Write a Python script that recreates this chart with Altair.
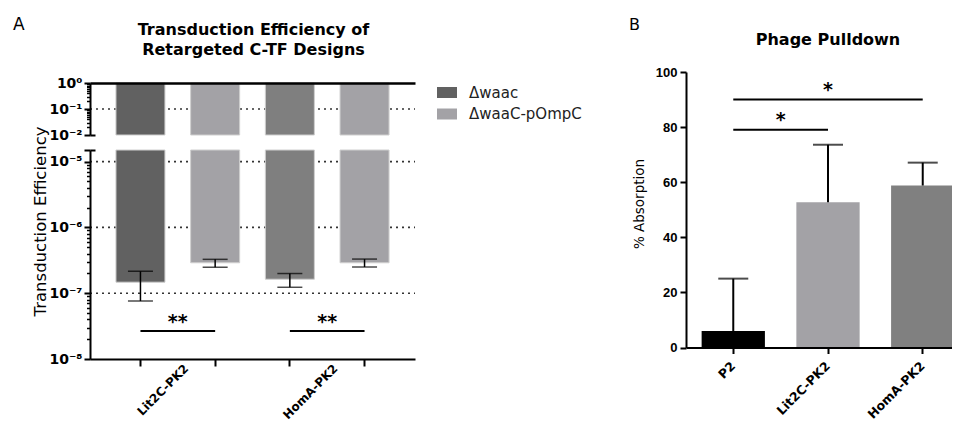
import altair as alt
import pandas as pd

W, H = 944, 413
FONT = "DejaVu Sans"
ARIAL = "Liberation Sans"

# ---------------- Panel A data ----------------
designs = ["Lit2C-PK2", "HomA-PK2"]
strains = ["\u0394waac", "\u0394waaC-pOmpC"]
te_mean = [1.47e-7, 2.90e-7, 1.63e-7, 2.90e-7]
te_hi = [2.15e-7, 3.27e-7, 1.99e-7, 3.30e-7]
te_lo = [7.6e-8, 2.48e-7, 1.23e-7, 2.50e-7]
bar_colors = ["#616161", "#a3a2a6", "#7f7f7f", "#a3a2a6"]
legend_colors = ["#616161", "#a3a2a6"]
sig_a = ["**", "**"]
sig_a_from = [0, 2]
sig_a_to = [1, 3]
sig_a_level = [2.67e-8, 2.67e-8]
top_ticks = [1, 0.1, 0.01]
top_exps = [0, -1, -2]
bot_ticks = [1e-5, 1e-6, 1e-7, 1e-8]
bot_exps = [-5, -6, -7, -8]
grid_top = [0.1]
grid_bot = [1e-5, 1e-6, 1e-7]
minor_top = [m * 10.0 ** e for e in (-2, -1) for m in range(2, 10)]
minor_bot = [m * 10.0 ** e for e in (-8, -7, -6) for m in range(2, 10)]

# ---------------- Panel B data ----------------
pull_cats = ["P2", "Lit2C-PK2", "HomA-PK2"]
pull_mean = [6.0, 52.7, 58.8]
pull_hi = [25.0, 73.6, 67.1]
pull_colors = ["#000000", "#a3a2a6", "#808080"]
sig_b = ["*", "*"]
sig_b_from = [0, 0]
sig_b_to = [1, 2]
sig_b_level = [79, 90]
pull_ticks = [0, 20, 40, 60, 80, 100]

# ---------------- helpers ----------------
SUP = str.maketrans("0123456789-", "\u2070\u00b9\u00b2\u00b3\u2074\u2075\u2076\u2077\u2078\u2079\u207b")


def pow_label(e):
    return "10" + str(e).translate(SUP)


def label_expr(vals, exps):
    parts = [f"abs(log(datum.value) - log({v!r})) < 0.01 ? '{pow_label(e)}'" for v, e in zip(vals, exps)]
    return " : ".join(parts) + " : ''"


def ax(**kw):
    base = dict(grid=False, domainColor="black", tickColor="black", labelColor="black",
                titleColor="black", zindex=1, title=None)
    base.update(kw)
    return alt.Axis(**base)


# ---------------- Panel A geometry (scale ranges) ----------------
AX_A, AX_A_END = 82, 407
TOP_A, TOP_A_BOT = 75, 127
BOT_A_TOP, BOT_A = 142, 351
PI_A, PO_A = 0.344, 0.3475
step_a = (AX_A_END - AX_A) / (4 - PI_A + 2 * PO_A)
c0 = AX_A + PO_A * step_a + step_a * (1 - PI_A) / 2
centers_a = [c0 + i * step_a for i in range(4)]

bar_ids = [f"{d} {s}" for d in designs for s in strains]
dfA = pd.DataFrame({
    "bar": bar_ids,
    "design": [d for d in designs for s in strains],
    "strain": [s for d in designs for s in strains],
    "mean": te_mean, "lo": te_lo, "hi": te_hi,
})
dfA["base"] = 1.0

barX = alt.Scale(type="band", domain=bar_ids, range=[AX_A, AX_A_END], paddingInner=PI_A, paddingOuter=PO_A)
topY = alt.Scale(type="log", domain=[0.01, 1], range=[TOP_A_BOT, TOP_A], clamp=True, nice=False)
botY = alt.Scale(type="log", domain=[1e-8, 1.5e-5], range=[BOT_A, BOT_A_TOP], clamp=True, nice=False)
groupX = alt.Scale(type="point", domain=designs,
                   range=[(centers_a[0] + centers_a[1]) / 2, (centers_a[2] + centers_a[3]) / 2], padding=0)
idxA = alt.Scale(type="linear", domain=[0, 3], range=[centers_a[0], centers_a[3]], nice=False, zero=False)

grid_a_top = alt.Chart(pd.DataFrame({"g": grid_top})).mark_rule(
    color="#333", strokeWidth=1.6, strokeDash=[2, 4]).encode(
    y=alt.Y("g:Q", scale=topY, axis=ax(orient="right", offset=AX_A - W, values=[0.01], labels=False,
                                         domain=False, tickSize=5, tickWidth=2)),
    x=alt.value(AX_A), x2=alt.value(AX_A_END))

grid_a_bot = alt.Chart(pd.DataFrame({"g": grid_bot})).mark_rule(
    color="#333", strokeWidth=1.6, strokeDash=[2, 4]).encode(
    y=alt.Y("g:Q", scale=botY, axis=ax(orient="right", offset=AX_A - W, values=[1.5e-5], labels=False,
                                         domain=False, tickSize=5, tickWidth=2)),
    x=alt.value(AX_A), x2=alt.value(AX_A_END))

bars_a_top = alt.Chart(dfA).mark_bar(stroke="#cfcfcf", strokeWidth=1).encode(
    x=alt.X("bar:N", scale=barX, sort=None,
            axis=ax(orient="top", offset=-TOP_A, ticks=False, labels=False, domainWidth=2.5)),
    y=alt.Y("mean:Q", scale=topY,
            axis=ax(orient="left", offset=-AX_A, values=top_ticks, labelExpr=label_expr(top_ticks, top_exps),
                    tickSize=6, tickWidth=2, domainWidth=2, labelFont=FONT, labelFontWeight="bold",
                    labelFontSize=14, labelPadding=2)),
    y2="base:Q",
    color=alt.Color("bar:N", scale=alt.Scale(domain=bar_ids, range=bar_colors), legend=None))

bars_a_bot = alt.Chart(dfA).mark_bar(stroke="#cfcfcf", strokeWidth=1).encode(
    x=alt.X("bar:N", scale=barX, sort=None,
            axis=ax(orient="bottom", offset=BOT_A - H, labels=False, tickSize=7, tickWidth=2, domainWidth=2)),
    y=alt.Y("mean:Q", scale=botY,
            axis=ax(orient="left", offset=-AX_A, values=bot_ticks + [1.5e-5],
                    labelExpr=label_expr(bot_ticks, bot_exps),
                    tickSize=6, tickWidth=2, domainWidth=2, labelFont=FONT, labelFontWeight="bold",
                    labelFontSize=14, labelPadding=2,
                    title="Transduction Efficiency", titleX=-42, titleY=213, titleFont=FONT,
                    titleFontSize=16.5, titleFontWeight="normal")),
    y2="base:Q",
    color=alt.Color("bar:N", scale=alt.Scale(domain=bar_ids, range=bar_colors), legend=None))

minor_a_top = alt.Chart(pd.DataFrame({"m": minor_top})).mark_point(opacity=0).encode(
    y=alt.Y("m:Q", scale=topY, axis=ax(orient="left", offset=-AX_A, values=minor_top, labels=False,
                                         domain=False, tickSize=3.5, tickWidth=1.5)))

minor_a_bot = alt.Chart(pd.DataFrame({"m": minor_bot})).mark_point(opacity=0).encode(
    y=alt.Y("m:Q", scale=botY, axis=ax(orient="left", offset=-AX_A, values=minor_bot, labels=False,
                                         domain=False, tickSize=3.5, tickWidth=1.5)))

stem_a = alt.Chart(dfA).mark_rule(color="black", strokeWidth=1.5).encode(
    x=alt.X("bar:N", scale=barX, sort=None, axis=None),
    y=alt.Y("lo:Q", scale=botY, axis=None), y2="hi:Q")

caps_a = alt.Chart(dfA).transform_fold(["lo", "hi"], as_=["k", "v"]).mark_tick(
    color="black", thickness=1.5, size=25).encode(
    x=alt.X("bar:N", scale=barX, sort=None, axis=None),
    y=alt.Y("v:Q", scale=botY, axis=None))

dfSigA = pd.DataFrame({"design": designs, "sig": sig_a, "i1": sig_a_from, "i2": sig_a_to, "lvl": sig_a_level})

bracket_a = alt.Chart(dfSigA).mark_rule(color="black", strokeWidth=2).encode(
    x=alt.X("i1:Q", scale=idxA, axis=None), x2="i2:Q",
    y=alt.Y("lvl:Q", scale=botY, axis=None))

stars_a = alt.Chart(dfSigA).mark_text(font=FONT, fontWeight="bold", fontSize=19, baseline="alphabetic",
                                      dy=-3, color="black").encode(
    x=alt.X("design:N", scale=groupX, sort=None,
            axis=ax(orient="bottom", offset=BOT_A - H, ticks=False, tickSize=0, domain=False, labelAngle=-45,
                    labelAlign="right", labelBaseline="middle", labelPadding=7, labelOffset=8,
                    labelFont=FONT, labelFontWeight="bold", labelFontSize=12)),
    y=alt.Y("lvl:Q", scale=botY, axis=None),
    text="sig:N")

legend_a = alt.Chart(dfA).mark_bar().encode(
    color=alt.Color("strain:N", scale=alt.Scale(domain=strains, range=legend_colors),
                    legend=alt.Legend(title=None, orient="none", legendX=429, legendY=74.5,
                                      symbolType="M-1,-0.55H1V0.55H-1Z", symbolSize=400,
                                      symbolStrokeWidth=0, labelFont=FONT, labelFontSize=15,
                                      labelColor="#222", labelOffset=12, rowPadding=3.5))
).transform_filter("false")

# ---------------- Panel B geometry ----------------
AX_B, AX_B_END = 678, 962
BOT_B, TOP_B = 339.5, 64
PI_B, PO_B = 0.332, 0.165
step_b = (AX_B_END - AX_B) / (3 - PI_B + 2 * PO_B)
cb0 = AX_B + PO_B * step_b + step_b * (1 - PI_B) / 2
centers_b = [cb0 + i * step_b for i in range(3)]

dfB = pd.DataFrame({"cat": pull_cats, "mean": pull_mean, "hi": pull_hi})
xB = alt.Scale(type="band", domain=pull_cats, range=[AX_B, AX_B_END], paddingInner=PI_B, paddingOuter=PO_B)
yB = alt.Scale(type="linear", domain=[0, 100], range=[BOT_B, TOP_B], nice=False)
idxB = alt.Scale(type="linear", domain=[0, 2], range=[centers_b[0], centers_b[2]], nice=False, zero=False)

bars_b = alt.Chart(dfB).mark_bar().encode(
    x=alt.X("cat:N", scale=xB, sort=None,
            axis=ax(orient="bottom", offset=BOT_B - H, tickSize=6, tickWidth=2, domainWidth=2,
                    labelAngle=-45, labelAlign="right", labelBaseline="middle", labelPadding=10,
                    labelFont=FONT, labelFontWeight="bold", labelFontSize=12.5)),
    y=alt.Y("mean:Q", scale=yB,
            axis=ax(orient="left", offset=-AX_B, values=pull_ticks, tickSize=6, tickWidth=2, domainWidth=2,
                    labelFont=ARIAL, labelFontWeight="bold", labelFontSize=13, labelPadding=3,
                    title="% Absorption", titleX=-40, titleY=195.5, titleFont=FONT, titleFontSize=13.5,
                    titleFontWeight="normal")),
    color=alt.Color("cat:N", scale=alt.Scale(domain=pull_cats, range=pull_colors), legend=None))

stem_b = alt.Chart(dfB).mark_rule(color="black", strokeWidth=2).encode(
    x=alt.X("cat:N", scale=xB, sort=None, axis=None),
    y=alt.Y("mean:Q", scale=yB, axis=None), y2="hi:Q")

caps_b = alt.Chart(dfB).mark_tick(color="black", thickness=2, size=30).encode(
    x=alt.X("cat:N", scale=xB, sort=None, axis=None),
    y=alt.Y("hi:Q", scale=yB, axis=None))

dfSigB = pd.DataFrame({"sig": sig_b, "i1": sig_b_from, "i2": sig_b_to, "lvl": sig_b_level})

bracket_b = alt.Chart(dfSigB).mark_rule(color="black", strokeWidth=2).encode(
    x=alt.X("i1:Q", scale=idxB, axis=None), x2="i2:Q",
    y=alt.Y("lvl:Q", scale=yB, axis=None))

stars_b = alt.Chart(dfSigB).transform_calculate(mid="(datum.i1 + datum.i2) / 2").mark_text(
    font=FONT, fontWeight="bold", fontSize=19, baseline="alphabetic", dy=-4, color="black").encode(
    x=alt.X("mid:Q", scale=idxB, axis=None),
    y=alt.Y("lvl:Q", scale=yB, axis=None),
    text="sig:N")

# ---------------- titles & panel letters ----------------
one = pd.DataFrame({"k": [0]})


def caption(text, x, y, size, weight="normal", align="center"):
    return alt.Chart(one).mark_text(text=text, font=FONT, fontSize=size, fontWeight=weight, align=align,
                                    baseline="alphabetic", lineHeight=20, color="black").encode(
        x=alt.value(x), y=alt.value(y))


titles = [
    caption("A", 5, 22, 17, align="left"),
    caption("B", 621, 22, 16, align="left"),
    caption(["Transduction Efficiency of", "Retargeted C-TF Designs"], 245.5, 27, 16, "bold"),
    caption("Phage Pulldown", 820, 37, 16, "bold"),
]

chart = alt.layer(
    grid_a_top, grid_a_bot, bars_a_top, bars_a_bot, minor_a_top, minor_a_bot,
    stem_a, caps_a, bracket_a, stars_a, legend_a,
    bars_b, stem_b, caps_b, bracket_b, stars_b,
    *titles,
).resolve_scale(x="independent", y="independent", color="independent").properties(
    width=W, height=H, padding=0, background="white",
    autosize=alt.AutoSizeParams(type="none"),
).configure_view(stroke="transparent")

chart.save("out.html", embed_options={"renderer": "svg", "actions": False})
